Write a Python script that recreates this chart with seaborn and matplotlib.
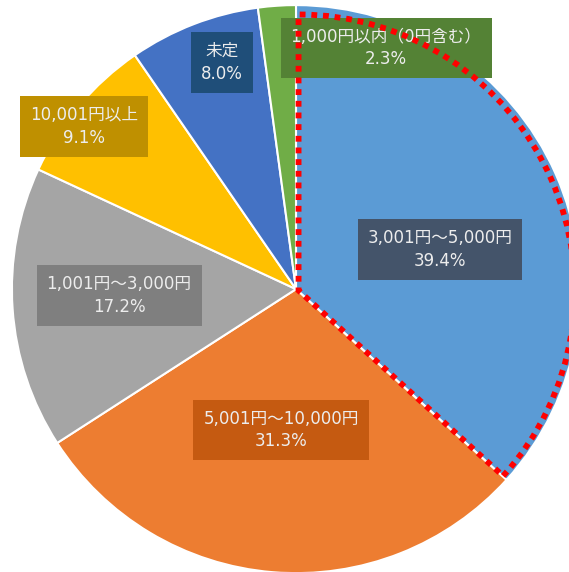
import matplotlib
matplotlib.use("Agg")
import matplotlib.pyplot as plt
from matplotlib.patches import Wedge
import seaborn as sns

# data, clockwise from 12 o'clock
categories = ["3,001円～5,000円", "5,001円～10,000円", "1,001円～3,000円",
              "10,001円以上", "未定", "1,000円以内（0円含む）"]
shares = [39.4, 31.3, 17.2, 9.1, 8.0, 2.3]

slice_colors = ["#5B9BD5", "#ED7D31", "#A5A5A5", "#FFC000", "#4472C4", "#70AD47"]
box_colors = ["#44546A", "#C55A11", "#7F7F7F", "#BF9000", "#1F4E79", "#548235"]
# label centres, in units of the pie radius
label_pos = [(0.507, 0.141), (-0.053, -0.496), (-0.623, -0.021),
             (-0.746, 0.574), (-0.261, 0.799), (0.317, 0.849)]

sns.set_theme(style="white")
plt.rcParams['font.family'] = ['DejaVu Sans', 'Noto Sans CJK JP']

fig = plt.figure(figsize=(5.69, 5.72), dpi=100)
ax = fig.add_axes([0, 0, 1, 1])

wedges, _ = ax.pie(shares, colors=slice_colors, startangle=90, counterclock=False,
                   wedgeprops=dict(edgecolor="white", linewidth=1.5))

for cat, val, (x, y), bc in zip(categories, shares, label_pos, box_colors):
    ax.text(x, y, f"{cat}\n{val:.1f}%", ha="center", va="center", fontsize=12,
            color="#EDEDED", linespacing=1.35,
            bbox=dict(boxstyle="square,pad=0.6", facecolor=bc, edgecolor="none"))

# red dotted outline on the largest slice, drawn over the labels
w = wedges[0]
outline = Wedge((0.009, -0.005), 0.972, w.theta1, w.theta2, fill=False,
                edgecolor="#FF0000", linewidth=4.2, linestyle=(0, (1, 1)), zorder=5)
ax.add_patch(outline)

ax.set_aspect("auto")
ax.set_xlim(-1.042, 0.961)
ax.set_ylim(-0.996, 1.018)
ax.axis("off")

fig.savefig("out.png", dpi=100)
